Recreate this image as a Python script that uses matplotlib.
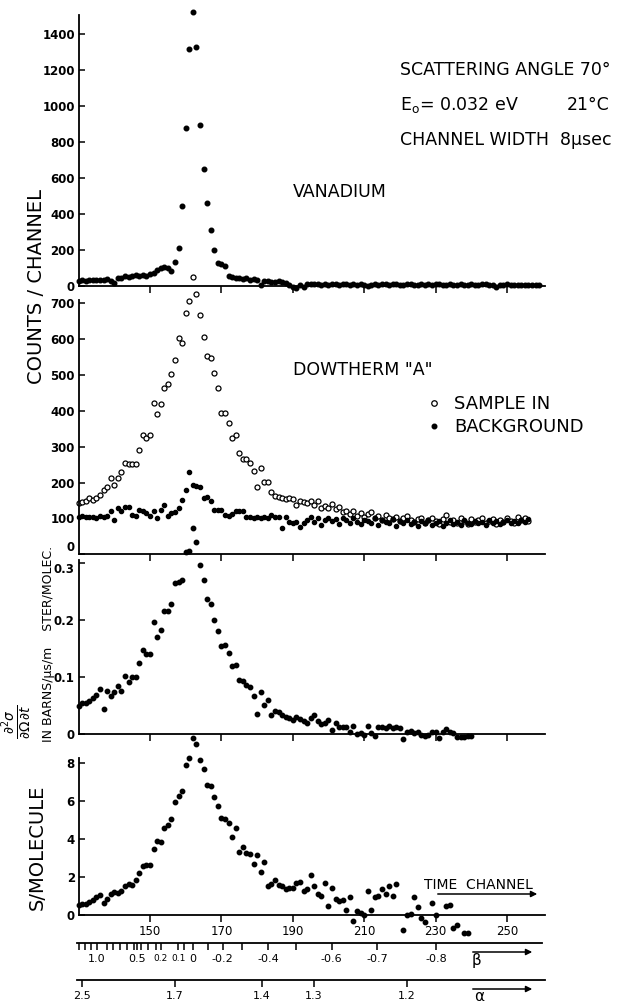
import numpy as np
import matplotlib
matplotlib.use("Agg")
import matplotlib.pyplot as plt
from matplotlib.patches import FancyArrowPatch

plt.rcParams['font.family'] = ['DejaVu Sans']

# ---------------- data (one value per time channel, starting at channel 130) ----------------
first_channel = 130

vanadium = [28, 30, 27, 30, 29, 31, 33, 30, 35, 28,
            16, 45, 42, 52, 48, 55, 58, 52, 60, 55,
            65, 72, 90, 100, 102, 98, 84, 130, 208, 446,
            878, 1317, 1523, 1331, 897, 650, 462, 310, 199, 125,
            120, 108, 54, 48, 45, 42, 40, 44, 32, 36,
            30, 5, 28, 25, 22, 20, 24, 18, 15, 5,
            -5, -12, 2, -6, 8, 12, 8, 10, 6, 9,
            4, 8, 12, 5, 7, 10, 3, 8, 6, 11,
            4, -3, 6, 9, 5, 12, 7, 3, 8, 10,
            2, 6, 9, 12, 5, 3, 8, 6, 10, 4,
            7, 9, 3, 6, 11, 5, 2, 8, 6, 4,
            9, 5, 3, 7, 10, 4, 6, -6, 2, 5,
            8, 3, 6, 4, 2, 5, 3, 4, 2, 3]

sample_in = [142, 147, 150, 156, 151, 156, 165, 179, 189, 212,
             193, 212, 230, 255, 252, 252, 252, 291, 332, 324,
             333, 421, 391, 419, 465, 474, 502, 542, 602, 588,
             672, 706, 774, 725, 667, 607, 552, 547, 507, 465,
             393, 393, 367, 324, 333, 282, 265, 265, 254, 232,
             189, 240, 202, 202, 175, 162, 160, 158, 155, 158,
             155, 137, 150, 147, 142, 150, 138, 148, 128, 135,
             128, 140, 125, 132, 118, 122, 112, 120, 108, 115,
             105, 112, 118, 100, 108, 95, 110, 102, 98, 105,
             92, 100, 108, 95, 90, 98, 102, 88, 95, 100,
             92, 85, 98, 110, 90, 95, 88, 100, 92, 85,
             98, 90, 95, 102, 88, 92, 98, 85, 95, 90,
             100, 92, 88, 105, 95, 100, 92]

background = [104, 106, 103, 105, 104, 102, 106, 104, 108, 121,
              96, 130, 121, 133, 133, 110, 108, 124, 122, 114,
              107, 121, 102, 124, 137, 107, 114, 118, 130, 151,
              179, 230, 193, 190, 188, 156, 161, 148, 124, 124,
              124, 110, 108, 112, 121, 122, 122, 103, 105, 102,
              104, 100, 103, 100, 110, 105, 104, 74, 105, 90,
              88, 91, 77, 88, 95, 105, 90, 100, 82, 95,
              102, 92, 98, 85, 100, 95, 88, 102, 90, 85,
              96, 92, 88, 100, 82, 95, 90, 86, 98, 80,
              92, 88, 95, 84, 90, 78, 92, 86, 95, 82,
              88, 92, 80, 88, 95, 85, 90, 82, 95, 88,
              84, 92, 86, 90, 82, 95, 88, 92, 84, 90,
              96, 86, 92, 88, 95, 90, 98]

cross_section = [.050, .054, .055, .058, .063, .069, .079, .044, .075, .067,
                 .073, .085, .076, .102, .092, .100, .100, .125, .148, .141,
                 .141, .197, .170, .183, .216, .217, .229, .265, .268, .270,
                 .320, .322, .362, .337, .297, .271, .237, .228, .201, .181,
                 .155, .157, .143, .120, .122, .095, .094, .086, .083, .066,
                 .035, .073, .051, .060, .034, .040, .038, .033, .030, .028,
                 .025, .030, .026, .022, .020, .028, .034, .022, .018, .020,
                 .024, .007, .019, .012, .013, .012, .004, .014, .000, .001,
                 -.002, .014, .002, -.004, .012, .013, .010, .014, .011, .012,
                 .010, -.009, .003, .005, .002, .004, -.002, -.003, -.001, .004,
                 .004, -.007, .003, .008, .004, .002, -.006, -.005, -.006, -.004,
                 -.003]

nan = np.nan
s_per_molecule = [0.55, 0.60, 0.58, 0.68, 0.80, 0.95, 1.05, 0.62, 0.85, 1.10,
                  1.22, 1.18, 1.25, 1.52, 1.65, 1.60, 1.85, 2.20, 2.55, 2.65,
                  2.62, 3.45, 3.88, 3.85, 4.55, 4.75, 5.06, 5.95, 6.25, 6.50,
                  7.90, 8.25, 9.30, 9.00, 8.15, 7.68, 6.85, 6.80, 6.20, 5.75,
                  5.08, 5.05, 4.83, 4.10, 4.55, 3.30, 3.55, 3.25, 3.22, 2.70,
                  3.15, 2.26, 2.78, 1.53, 1.62, 1.84, 1.57, 1.53, 1.36, 1.44,
                  1.40, 1.70, 1.74, 1.27, 1.36, 2.09, 1.53, 1.10, 1.00, 1.67,
                  0.45, 1.44, 0.83, 0.72, 0.78, 0.28, 0.96, -0.30, 0.20, 0.08,
                  0.00, 1.27, 0.26, 0.97, 1.00, 1.39, 1.10, 1.53, 1.00, 1.62,
                  nan, -0.78, 0.00, 0.05, 0.97, 0.40, -0.17, -0.38, nan, 0.61,
                  0.00, nan, nan, 0.48, 0.55, -0.70, -0.55, nan, -0.96, -0.96]

channel_ticks = [150, 170, 190, 210, 230, 250]
channel_labels = ['150', '170', '190', '210', '230', '250']

# beta / alpha scales (positions expressed in time channels)
beta_pos = [135.1, 146.4, 153.0, 157.9, 162.1, 170.4, 183.1, 200.9, 213.7, 230.1]
beta_labels = ['1.0', '0.5', '0.2', '0.1', '0', '-0.2', '-0.4', '-0.6', '-0.7', '-0.8']
beta_minor = [130.2, 131.8, 133.4, 137.9, 139.7, 141.6, 143.6, 145.5, 147.5, 149.3,
              151.7, 159.5, 166.3, 175.9, 190.9]
alpha_pos = [130.9, 157.0, 181.3, 195.9, 221.9]
alpha_labels = ['2.5', '1.7', '1.4', '1.3', '1.2']

# ---------------- layout helpers ----------------
W, H = 643, 1005
fig = plt.figure(figsize=(W / 100, H / 100), dpi=100)

PX150, PXCH = 150.0, 3.57


def ch_at(px):
    return 150 + (px - PX150) / PXCH


def add_ax(x0, x1, ytop, ybot):
    ax = fig.add_axes([x0 / W, 1 - ybot / H, (x1 - x0) / W, (ybot - ytop) / H])
    ax.set_facecolor('none')
    for s in ('top', 'right'):
        ax.spines[s].set_visible(False)
    for s in ('left', 'bottom'):
        ax.spines[s].set_linewidth(1.3)
    ax.set_xlim(ch_at(x0), ch_at(x1))
    ax.tick_params(axis='x', direction='out', length=5, width=1.1, labelsize=8.5, pad=2)
    ax.tick_params(axis='y', direction='in', length=4, width=1.1, labelsize=8.5, pad=3)
    return ax


def fx(px):
    return px / W


def fy(py):
    return 1 - py / H


XL, XR = 79, 545

# ---------------- panel 1 : vanadium ----------------
ax1 = add_ax(XL, XR, 15, 285.7)
ch1 = np.arange(first_channel, first_channel + len(vanadium))
ax1.plot(ch1, vanadium, 'o', color='black', ms=3.3, clip_on=False)
ax1.set_ylim(0, 1507.5)
ax1.set_yticks([0, 200, 400, 600, 800, 1000, 1200, 1400])
ax1.set_yticklabels(['0', '200', '400', '600', '800', '1000', '1200', '1400'], fontweight='bold')
ax1.set_xticks(channel_ticks)
ax1.set_xticklabels([])

# ---------------- panel 2 : Dowtherm A ----------------
ax2 = add_ax(XL, XR, 300, 554.3)
ch2 = np.arange(first_channel, first_channel + len(sample_in))
ch2b = np.arange(first_channel, first_channel + len(background))
h_in, = ax2.plot(ch2, sample_in, 'o', mfc='white', mec='black', mew=0.9, ms=3.6, clip_on=False,
                 linestyle='none')
h_bg, = ax2.plot(ch2b, background, 'o', color='black', ms=3.0, clip_on=False, linestyle='none')
ax2.set_ylim(0, 709.2)
ax2.set_yticks([0, 100, 200, 300, 400, 500, 600, 700])
ax2.set_yticklabels(['0', '100', '200', '300', '400', '500', '600', '700'], fontweight='bold')
ax2.set_xticks(channel_ticks)
ax2.set_xticklabels([])
ax2.get_yticklabels()[0].set_verticalalignment('bottom')

# ---------------- panel 3 : cross section ----------------
ax3 = add_ax(XL, XR, 560, 734)
ch3 = np.arange(first_channel, first_channel + len(cross_section))
ax3.plot(ch3, cross_section, 'o', color='black', ms=3.2, clip_on=False)
ax3.set_ylim(0, 0.3058)
ax3.set_yticks([0, 0.1, 0.2, 0.3])
ax3.set_yticklabels(['0', '0.1', '0.2', '0.3'], fontweight='bold')
ax3.get_yticklabels()[-1].set_verticalalignment('top')
ax3.set_xticks(channel_ticks)
ax3.set_xticklabels([])

# ---------------- panel 4 : S per molecule ----------------
ax4 = add_ax(XL, XR, 758, 915)
ch4 = np.arange(first_channel, first_channel + len(s_per_molecule))
ax4.plot(ch4, s_per_molecule, 'o', color='black', ms=3.2, clip_on=False)
ax4.set_ylim(0, 8.246)
ax4.set_yticks([0, 2, 4, 6, 8])
ax4.set_yticklabels(['0', '2', '4', '6', '8'], fontweight='bold')
ax4.set_xticks(channel_ticks)
ax4.set_xticklabels(channel_labels)

# ---------------- beta scale ----------------
axb = fig.add_axes([fx(77), fy(943), (542 - 77) / W, 1 / H])
axb.set_facecolor('none')
for s in ('top', 'right', 'left'):
    axb.spines[s].set_visible(False)
axb.spines['bottom'].set_linewidth(1.3)
axb.set_xlim(ch_at(77), ch_at(542))
axb.set_yticks([])
axb.set_xticks(beta_pos)
axb.set_xticklabels(beta_labels)
axb.set_xticks(beta_minor, minor=True)
axb.tick_params(axis='x', which='both', direction='out', length=5, width=1.1, labelsize=8, pad=3)
for lab in axb.get_xticklabels():
    if lab.get_text() in ('0.2', '0.1'):
        lab.set_fontsize(6.5)

# ---------------- alpha scale ----------------
axa = fig.add_axes([fx(77), fy(980), (545 - 77) / W, 1 / H])
axa.set_facecolor('none')
for s in ('top', 'right', 'left'):
    axa.spines[s].set_visible(False)
axa.spines['bottom'].set_linewidth(1.3)
axa.set_xlim(ch_at(77), ch_at(545))
axa.set_yticks([])
axa.set_xticks(alpha_pos)
axa.set_xticklabels(alpha_labels)
axa.tick_params(axis='x', direction='out', length=5, width=1.1, labelsize=8, pad=3)

# ---------------- texts ----------------
fig.text(fx(400), fy(70), 'SCATTERING ANGLE 70°', fontsize=12.5, ha='left', va='center')
fig.text(fx(400), fy(105), r'E$_\mathrm{o}$= 0.032 eV', fontsize=12.5, ha='left', va='center')
fig.text(fx(567), fy(105), '21°C', fontsize=12.5, ha='left', va='center')
fig.text(fx(400), fy(140), 'CHANNEL WIDTH  8μsec', fontsize=12.5, ha='left', va='center')
fig.text(fx(293), fy(192), 'VANADIUM', fontsize=12.5, ha='left', va='center')
fig.text(fx(293), fy(370), 'DOWTHERM "A"', fontsize=12.5, ha='left', va='center')

fig.text(fx(37), fy(286), 'COUNTS / CHANNEL', fontsize=14, rotation=90, ha='center', va='center')
fig.text(fx(37), fy(847), 'S/MOLECULE', fontsize=14, rotation=90, ha='center', va='center')
fig.text(fx(49), fy(644), 'IN BARNS/μs/m    STER/MOLEC.', fontsize=9, rotation=90,
         ha='center', va='center')
fig.text(fx(17), fy(722), r'$\frac{\partial^2\sigma}{\partial\Omega\,\partial t}$', fontsize=14,
         rotation=90, ha='center', va='center')

fig.legend(handles=[h_in, h_bg], labels=['SAMPLE IN', 'BACKGROUND'], loc='upper left',
           bbox_to_anchor=(fx(429), fy(395)), bbox_transform=fig.transFigure, frameon=False,
           fontsize=13, handlelength=0.6, handletextpad=0.8, labelspacing=0.3,
           borderpad=0, borderaxespad=0, markerscale=1.1)

# TIME CHANNEL with arrow
fig.text(fx(424), fy(885), 'TIME  CHANNEL', fontsize=10, ha='left', va='center')
for (xa, xb, yy) in [(435, 540, 894), (470, 535, 952), (470, 535, 989)]:
    fig.add_artist(FancyArrowPatch((fx(xa), fy(yy)), (fx(xb), fy(yy)),
                                   transform=fig.transFigure, arrowstyle='-|>',
                                   mutation_scale=9, lw=1.1, color='black'))
fig.text(fx(477), fy(960), 'β', fontsize=11, ha='center', va='center')
fig.text(fx(479), fy(996), 'α', fontsize=11, ha='center', va='center')

fig.savefig('out.png', dpi=100)
